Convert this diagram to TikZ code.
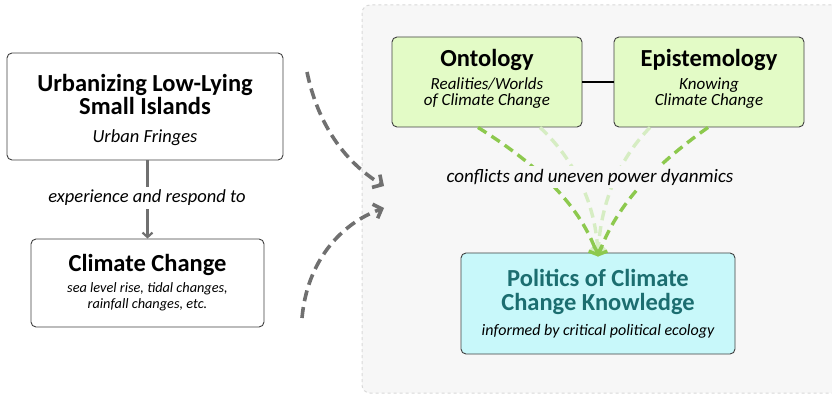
\documentclass[tikz,border=0pt]{standalone}
\usepackage{fontspec}
\setmainfont{Carlito}
\usetikzlibrary{arrows.meta}
\definecolor{panelfill}{HTML}{F7F7F7}
\definecolor{panelline}{HTML}{D9D9D9}
\definecolor{boxline}{HTML}{404040}
\definecolor{grayarrow}{HTML}{707070}
\definecolor{ontofill}{HTML}{E3FBC6}
\definecolor{polfill}{HTML}{C8F8FA}
\definecolor{poltext}{HTML}{1C6E70}
\definecolor{greenA}{HTML}{8DC94E}
\definecolor{greenB}{HTML}{D6EDC3}
\tikzset{
  box/.style={draw=boxline, line width=0.9pt, rounded corners=5pt, inner sep=0pt},
  line/.style={anchor=base, inner sep=0pt},
  title/.style={line, font=\fontsize{24.5}{28}\selectfont\bfseries},
  note/.style={line, font=\fontsize{18.5}{22}\selectfont\itshape},
  small/.style={line, font=\fontsize{17}{20}\selectfont\itshape},
  tiny/.style={line, font=\fontsize{14.3}{17}\selectfont\itshape},
  graycurve/.style={draw=grayarrow, line width=3.6pt, dash pattern=on 11pt off 6pt,
    -{Straight Barb[length=7pt,width=15pt,line width=3.6pt]}},
  greencurve/.style={line width=3.4pt, dash pattern=on 10pt off 6pt,
    -{Straight Barb[length=6pt,width=14pt,line width=3.4pt]}},
}
\begin{document}
\begin{tikzpicture}[x=1pt,y=-1pt]
\useasboundingbox (0,0) rectangle (832,395);
\clip (0,0) rectangle (832,395);
% grey panel on the right
\draw[panelline, line width=1pt, dashed, fill=panelfill, rounded corners=8pt] (362,5) rectangle (845,393);

% left column
\node[box, fill=white, minimum width=276, minimum height=107] (islands) at (145,106.5) {};
\node[title] (islands1) at (145,92) {Urbanizing Low-Lying};
\node[title] (islands2) at (145,115) {Small Islands};
\node[note]  (islands3) at (145,143) {Urban Fringes};

\node[box, fill=white, minimum width=233, minimum height=88] (climate) at (147.5,283) {};
\node[title] (climate1) at (147.5,272) {Climate Change};
\node[tiny]  (climate2) at (147.5,292) {sea level rise, tidal changes,};
\node[tiny]  (climate3) at (147.5,308) {rainfall changes, etc.};

\draw[grayarrow, line width=2.4pt, -{Straight Barb[length=4.5pt,width=10pt,line width=2.2pt]}]
  (islands.south -| climate.north) -- (climate.north);
\node[fill=white, inner sep=3pt, font=\fontsize{18.5}{22}\selectfont\itshape] (exp) at (147,198)
  {experience and respond to};

% curved grey arrows into the panel
\coordinate (g1s) at (307,72);
\coordinate (g1e) at (384,186);
\coordinate (g2s) at (302,318);
\coordinate (g2e) at (384,208);
\draw[graycurve] (g1s) .. controls (318,125) and (345,162) .. (g1e);
\draw[graycurve] (g2s) .. controls (307,262) and (340,224) .. (g2e);

% ontology / epistemology
\node[box, fill=ontofill, minimum width=190, minimum height=90] (onto) at (487,82) {};
\node[title] (onto1) at (487,67) {Ontology};
\node[small] (onto2) at (487,90) {Realities/Worlds};
\node[small] (onto3) at (487,105.5) {of Climate Change};
\node[box, fill=ontofill, minimum width=190, minimum height=90] (epis) at (709,82) {};
\node[title] (epis1) at (709,67) {Epistemology};
\node[small] (epis2) at (709,90) {Knowing};
\node[small] (epis3) at (709,105.5) {Climate Change};
\draw[black, line width=2.8pt] (onto) -- (epis);

% politics box
\node[box, fill=polfill, minimum width=274, minimum height=101] (pol) at (598,303.5) {};
\node[title, text=poltext] (pol1) at (598,287) {Politics of Climate};
\node[title, text=poltext] (pol2) at (598,310) {Change Knowledge};
\node[line, font=\fontsize{16}{19}\selectfont\itshape] (pol3) at (598,335) {informed by critical political ecology};

% converging dashed green arrows
\draw[greencurve, draw=greenB] ([xshift=53pt]onto.south) .. controls (575,160) and (596,205) .. ([yshift=-4pt]pol.north);
\draw[greencurve, draw=greenB] ([xshift=-59pt]epis.south) .. controls (618,160) and (600,205) .. ([yshift=-4pt]pol.north);
\draw[greencurve, draw=greenA] ([xshift=-9pt]onto.south) .. controls (530,160) and (578,200) .. ([yshift=-4pt]pol.north);
\draw[greencurve, draw=greenA] ([xshift=-1pt]epis.south) .. controls (662,160) and (618,200) .. ([yshift=-4pt]pol.north);
\node[fill=panelfill, inner sep=3pt, font=\fontsize{19}{22}\selectfont\itshape] (conf) at (590,177)
  {conflicts and uneven power dyanmics};
\end{tikzpicture}
\end{document}
